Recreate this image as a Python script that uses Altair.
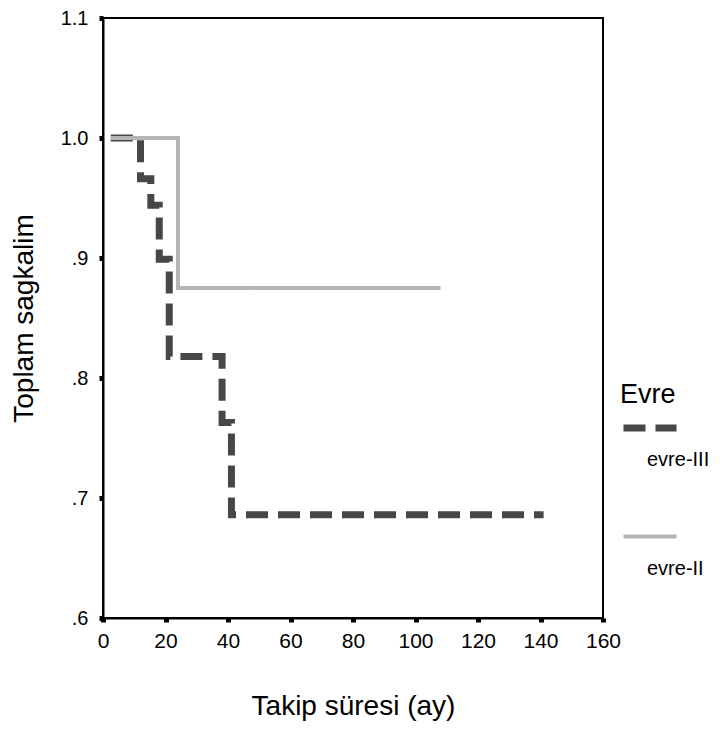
import altair as alt
import pandas as pd

# Kaplan-Meier step curves
groups = ["evre-III", "evre-II"]
t_III = [2.5, 12.0, 15.3, 18.0, 21.2, 38.1, 41.1, 141.0]
s_III = [1.0, 0.966, 0.944, 0.899, 0.818, 0.763, 0.686, 0.686]
t_II = [2.5, 24.0, 108.0]
s_II = [1.0, 0.875, 0.875]

x_ticks = [0, 20, 40, 60, 80, 100, 120, 140, 160]
y_ticks = [0.6, 0.7, 0.8, 0.9, 1.0, 1.1]

rows = []
for i, (t, s) in enumerate(zip(t_III, s_III)):
    rows.append({"Evre": "evre-III", "t": t, "s": s, "o": i})
for i, (t, s) in enumerate(zip(t_II, s_II)):
    rows.append({"Evre": "evre-II", "t": t, "s": s, "o": i})
df = pd.DataFrame(rows)

FONT = "Liberation Sans"

legend_common = dict(
    title="Evre",
    orient="none",
    legendX=517,
    legendY=364,
    titleFontSize=27,
    titleFont=FONT,
    titleFontWeight="normal",
    titleColor="black",
    titlePadding={"expr": "-11"},
    labelFont=FONT,
    labelFontSize=20,
    labelColor="black",
    labelBaseline="top",
    labelExpr="['', datum.label]",
    labelOffset={"expr": "-33"},
    symbolType="stroke",
    symbolSize=2809,
    rowPadding=38,
)

chart = alt.Chart(df).mark_line(interpolate="step-after", strokeCap="butt").encode(
    x=alt.X("t:Q", title="Takip süresi (ay)",
            scale=alt.Scale(domain=[0, 160], nice=False, zero=False),
            axis=alt.Axis(values=x_ticks, format="d", grid=False, labelFlush=False,
                          domainColor="black", domainWidth=2,
                          tickColor="black", tickSize=4, tickWidth=5,
                          labelFont=FONT, labelFontSize=21, labelColor="black",
                          labelPadding=8,
                          titleFont=FONT, titleFontSize=28,
                          titleFontWeight="normal", titleColor="black",
                          titlePadding=41)),
    y=alt.Y("s:Q", title="Toplam sagkalim",
            scale=alt.Scale(domain=[0.6, 1.1], nice=False, zero=False),
            axis=alt.Axis(values=y_ticks, grid=False, labelFlush=False,
                          labelExpr="datum.value >= 1 ? format(datum.value, '.1f') : slice(format(datum.value, '.1f'), 1)",
                          domainColor="black", domainWidth=2,
                          tickColor="black", tickSize=4, tickWidth=5,
                          labelFont=FONT, labelFontSize=20, labelColor="black",
                          labelPadding=11,
                          titleFont=FONT, titleFontSize=28,
                          titleFontWeight="normal", titleColor="black",
                          titlePadding=22)),
    color=alt.Color("Evre:N", scale=alt.Scale(domain=groups, range=["#474747", "#b5b5b5"]),
                    legend=alt.Legend(**legend_common)),
    strokeDash=alt.StrokeDash("Evre:N", scale=alt.Scale(domain=groups, range=[[22, 10], [1, 0]]),
                              legend=alt.Legend(**legend_common)),
    strokeWidth=alt.StrokeWidth("Evre:N", scale=alt.Scale(domain=groups, range=[7, 4]),
                                legend=alt.Legend(**legend_common)),
    order="o:Q",
).properties(
    width=500,
    height=600,
    background="white",
    autosize=alt.AutoSizeParams(type="none"),
    padding={"left": 95, "top": 10, "right": 114, "bottom": 103},
).configure_view(
    stroke="black", strokeWidth=2
).configure_axisX(
    labelFontSize=21, labelFont=FONT
).configure_axisY(
    labelFontSize=20, labelFont=FONT
)

chart.save("out.html", embed_options={"renderer": "svg", "actions": False})
